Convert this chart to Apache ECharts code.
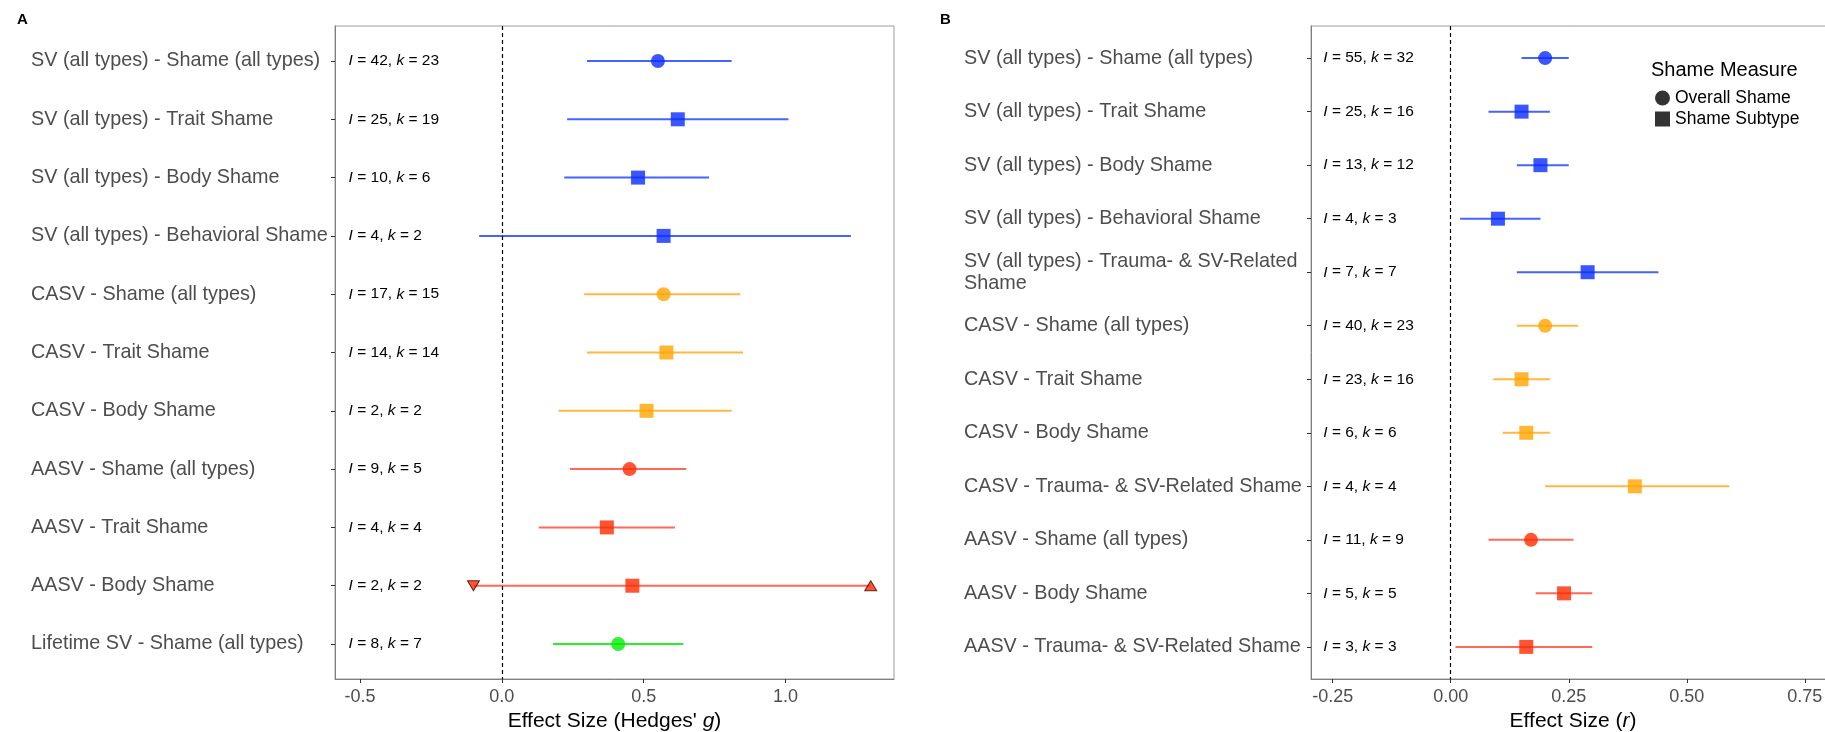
<!DOCTYPE html>
<html>
<head>
<meta charset="utf-8">
<script src="https://cdn.jsdelivr.net/npm/echarts@6/dist/echarts.min.js"></script>
<style>
html, body { margin: 0; padding: 0; background: #fff; }
#main { width: 1825px; height: 732px; }
</style>
</head>
<body>
<div id="main"></div>
<script>
// Panel A: Hedges' g
const catsA = [
  'SV (all types) - Shame (all types)', 'SV (all types) - Trait Shame', 'SV (all types) - Body Shame',
  'SV (all types) - Behavioral Shame', 'CASV - Shame (all types)', 'CASV - Trait Shame',
  'CASV - Body Shame', 'AASV - Shame (all types)', 'AASV - Trait Shame', 'AASV - Body Shame',
  'Lifetime SV - Shame (all types)'
];
const groupA = ['SV', 'SV', 'SV', 'SV', 'CASV', 'CASV', 'CASV', 'AASV', 'AASV', 'AASV', 'Lifetime'];
const typeA = ['overall', 'sub', 'sub', 'sub', 'overall', 'sub', 'sub', 'overall', 'sub', 'sub', 'overall'];
const estA = [0.55, 0.62, 0.48, 0.57, 0.57, 0.58, 0.51, 0.45, 0.37, 0.46, 0.41];
const lowA = [0.30, 0.23, 0.22, -0.08, 0.29, 0.30, 0.20, 0.24, 0.13, -0.10, 0.18];
const highA = [0.81, 1.01, 0.73, 1.23, 0.84, 0.85, 0.81, 0.65, 0.61, 1.30, 0.64];
const iA = [42, 25, 10, 4, 17, 14, 2, 9, 4, 2, 8];
const kA = [23, 19, 6, 2, 15, 14, 2, 5, 4, 2, 7];
// truncated CI ends (row index, x, direction)
const arrowsA = [[9, -0.1, 'down'], [9, 1.3, 'up']];
const ticksA = [-0.5, 0, 0.5, 1.0];

// Panel B: r
const catsB = [
  'SV (all types) - Shame (all types)', 'SV (all types) - Trait Shame', 'SV (all types) - Body Shame',
  'SV (all types) - Behavioral Shame', 'SV (all types) - Trauma- & SV-Related\nShame',
  'CASV - Shame (all types)', 'CASV - Trait Shame', 'CASV - Body Shame',
  'CASV - Trauma- & SV-Related Shame', 'AASV - Shame (all types)', 'AASV - Body Shame',
  'AASV - Trauma- & SV-Related Shame'
];
const groupB = ['SV', 'SV', 'SV', 'SV', 'SV', 'CASV', 'CASV', 'CASV', 'CASV', 'AASV', 'AASV', 'AASV'];
const typeB = ['overall', 'sub', 'sub', 'sub', 'sub', 'overall', 'sub', 'sub', 'sub', 'overall', 'sub', 'sub'];
const estB = [0.20, 0.15, 0.19, 0.10, 0.29, 0.20, 0.15, 0.16, 0.39, 0.17, 0.24, 0.16];
const lowB = [0.15, 0.08, 0.14, 0.02, 0.14, 0.14, 0.09, 0.11, 0.20, 0.08, 0.18, 0.01];
const highB = [0.25, 0.21, 0.25, 0.19, 0.44, 0.27, 0.21, 0.21, 0.59, 0.26, 0.30, 0.30];
const iB = [55, 25, 13, 4, 7, 40, 23, 6, 4, 11, 5, 3];
const kB = [32, 16, 12, 3, 7, 23, 16, 6, 4, 9, 5, 3];
const ticksB = [-0.25, 0, 0.25, 0.5, 0.75];

const pointColor = { SV: '#0a2cff', CASV: '#ffa500', AASV: '#ff2a00', Lifetime: '#00ee00' };
const lineColor = { SV: '#4463ff', CASV: '#ffb840', AASV: '#ff6a58', Lifetime: '#2cee2c' };

const FONT = 'Liberation Sans, Arial, sans-serif';
const GREY = '#4d4d4d';

const chart = echarts.init(document.getElementById('main'));

function points(est, type, group, which) {
  const out = [];
  est.forEach((v, i) => {
    if (type[i] === which) out.push({ value: [v, i], itemStyle: { color: pointColor[group[i]] } });
  });
  return out;
}

function ciSeries(idx, low, high, group) {
  return {
    type: 'custom', xAxisIndex: idx, yAxisIndex: idx, silent: true, z: 2,
    data: low.map((l, i) => [l, high[i], i]),
    encode: { x: [0, 1], y: 2 },
    renderItem: (params, api) => {
      const a = api.coord([api.value(0), api.value(2)]);
      const b = api.coord([api.value(1), api.value(2)]);
      return {
        type: 'line',
        shape: { x1: a[0], y1: a[1], x2: b[0], y2: b[1] },
        style: { stroke: lineColor[group[params.dataIndex]], lineWidth: 2 }
      };
    }
  };
}

function textSeries(idx, xPos, ii, kk) {
  return {
    type: 'custom', xAxisIndex: idx, yAxisIndex: idx, silent: true, z: 3,
    data: ii.map((v, i) => [xPos, i, v, kk[i]]),
    encode: { x: 0, y: 1 },
    renderItem: (params, api) => {
      const p = api.coord([api.value(0), api.value(1)]);
      return {
        type: 'text', x: p[0], y: p[1],
        style: {
          text: '{i|I} = ' + api.value(2) + ', {i|k} = ' + api.value(3),
          fontFamily: FONT, fontSize: 15.5, fill: '#000',
          verticalAlign: 'middle', align: 'left',
          rich: { i: { fontStyle: 'italic', fontFamily: FONT, fontSize: 15.5, fill: '#000' } }
        }
      };
    }
  };
}

function zeroLine() {
  return {
    silent: true, symbol: ['none', 'none'],
    label: { show: false },
    lineStyle: { color: '#000', type: [4, 3], width: 1.2 },
    data: [{ xAxis: 0 }]
  };
}

function xAxisDef(idx, min, max, ticks, name) {
  return {
    type: 'value', gridIndex: idx, min: min, max: max,
    axisLine: { show: true, onZero: false, lineStyle: { color: '#7f7f7f' } },
    axisTick: { show: true, length: 4, lineStyle: { color: '#333' }, customValues: ticks },
    axisLabel: {
      customValues: ticks, color: GREY, fontSize: 18, fontFamily: FONT, margin: 9,
      formatter: v => idx === 0 ? v.toFixed(1) : v.toFixed(2)
    },
    splitLine: { show: false },
    name: name, nameLocation: 'middle', nameGap: 29,
    nameTextStyle: {
      color: '#000', fontSize: 21, fontFamily: FONT,
      rich: { i: { fontStyle: 'italic', fontSize: 21, fontFamily: FONT, color: '#000' } }
    }
  };
}

function yAxisDef(idx, cats, margin) {
  const rows = cats.map((c, i) => i);
  return {
    type: 'value', gridIndex: idx, inverse: true, min: -0.6, max: cats.length - 0.4,
    axisLine: { show: true, onZero: false, lineStyle: { color: '#7f7f7f' } },
    axisTick: { show: true, length: 4, lineStyle: { color: '#333' }, customValues: rows },
    axisLabel: {
      customValues: rows, formatter: v => cats[Math.round(v)],
      color: GREY, fontSize: 19.8, fontFamily: FONT, align: 'left', margin: margin, lineHeight: 22
    },
    splitLine: { show: false }
  };
}

const option = {
  backgroundColor: '#fff',
  animation: false,
  textStyle: { fontFamily: FONT },
  title: [
    { text: 'A', left: 12, top: 7, textStyle: { fontSize: 15, fontWeight: 'bold', color: '#000', fontFamily: FONT } },
    { text: 'B', left: 935, top: 7, textStyle: { fontSize: 15, fontWeight: 'bold', color: '#000', fontFamily: FONT } },
    { text: 'Shame Measure', left: 1646, top: 55, textStyle: { fontSize: 20, fontWeight: 'normal', color: '#000', fontFamily: FONT } }
  ],
  legend: {
    data: [
      { name: 'Overall Shame', icon: 'circle', itemStyle: { color: '#000' } },
      { name: 'Shame Subtype', icon: 'rect', itemStyle: { color: '#000' } }
    ],
    orient: 'vertical', left: 1650, top: 84, itemWidth: 15, itemHeight: 15, itemGap: 3,
    selectedMode: false,
    textStyle: { fontSize: 17.5, color: '#000', fontFamily: FONT }
  },
  grid: [
    { left: 335, right: 931, top: 26, bottom: 53, outerBoundsMode: 'none', containLabel: false, show: true, borderColor: '#9a9a9a', borderWidth: 1, backgroundColor: 'transparent' },
    { left: 1311, right: -10, top: 26, bottom: 53, outerBoundsMode: 'none', containLabel: false, show: true, borderColor: '#9a9a9a', borderWidth: 1, backgroundColor: 'transparent' }
  ],
  xAxis: [
    xAxisDef(0, -0.588, 1.382, ticksA, "Effect Size (Hedges' {i|g})"),
    xAxisDef(1, -0.296, 0.814, ticksB, 'Effect Size ({i|r})')
  ],
  yAxis: [
    yAxisDef(0, catsA, 304),
    yAxisDef(1, catsB, 347)
  ],
  series: [
    ciSeries(0, lowA, highA, groupA),
    ciSeries(1, lowB, highB, groupB),
    textSeries(0, -0.54, iA, kA),
    textSeries(1, -0.27, iB, kB),
    {
      name: 'A overall', type: 'scatter', xAxisIndex: 0, yAxisIndex: 0, symbol: 'circle', symbolSize: 14, z: 4,
      data: points(estA, typeA, groupA, 'overall'), markLine: zeroLine()
    },
    {
      name: 'A subtype', type: 'scatter', xAxisIndex: 0, yAxisIndex: 0, symbol: 'rect', symbolSize: 14, z: 4,
      data: points(estA, typeA, groupA, 'sub')
    },
    {
      name: 'A arrows', type: 'scatter', xAxisIndex: 0, yAxisIndex: 0, symbol: 'triangle', symbolSize: [12, 10], z: 5,
      itemStyle: { color: '#ff2a00', borderColor: '#4a0000', borderWidth: 1 },
      data: arrowsA.map(a => ({ value: [a[1], a[0]], symbolRotate: a[2] === 'down' ? 180 : 0 }))
    },
    {
      name: 'Overall Shame', type: 'scatter', xAxisIndex: 1, yAxisIndex: 1, symbol: 'circle', symbolSize: 14, z: 4,
      data: points(estB, typeB, groupB, 'overall'), markLine: zeroLine()
    },
    {
      name: 'Shame Subtype', type: 'scatter', xAxisIndex: 1, yAxisIndex: 1, symbol: 'rect', symbolSize: 14, z: 4,
      data: points(estB, typeB, groupB, 'sub')
    }
  ]
};

chart.setOption(option);
</script>
</body>
</html>
